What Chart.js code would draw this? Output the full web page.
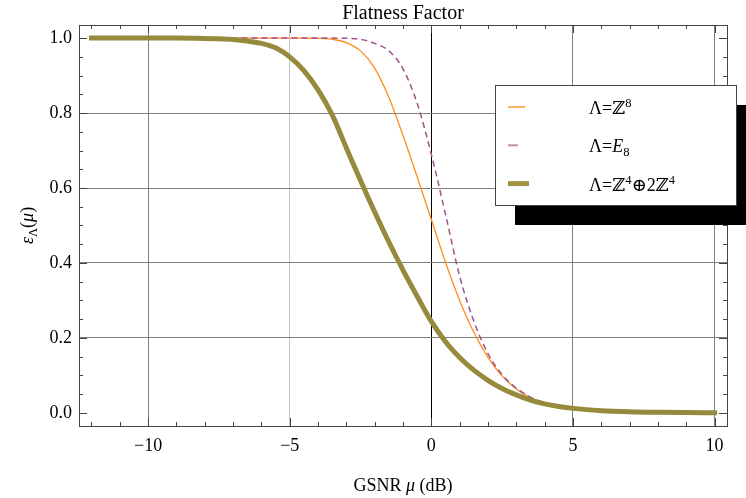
<!DOCTYPE html>
<html>
<head>
<meta charset="utf-8">
<script src="https://cdn.jsdelivr.net/npm/chart.js@4.4.0/dist/chart.umd.min.js"></script>
<style>
  html, body { margin: 0; padding: 0; background: #fff; }
</style>
</head>
<body>
<canvas id="flatness" width="746" height="498"></canvas>
<script>
// GSNR in dB
var gsnr = [-12, -11, -10, -9, -8, -7.5, -7, -6.5, -6, -5.5, -5, -4.5, -4, -3.5, -3, -2.5, -2, -1.5, -1, -0.5,
            0, 0.5, 1, 1.5, 2, 2.5, 3, 3.5, 4, 4.5, 5, 6, 7, 8, 9, 10];

// flatness factor
var z8 = [1, 1, 1, 1, 1, 1, 1, 1, 1, 1, 1, 1, 0.9995, 0.997, 0.988, 0.966, 0.92, 0.842, 0.74, 0.63,
          0.516, 0.402, 0.30, 0.215, 0.148, 0.098, 0.064, 0.041, 0.026, 0.017, 0.012, 0.006, 0.003, 0.0015, 0.0007, 0.0003];
var e8 = [1, 1, 1, 1, 1, 1, 1, 1, 1, 1, 1, 1, 1, 1, 0.9995, 0.997, 0.986, 0.966, 0.918, 0.826,
          0.69, 0.53, 0.365, 0.245, 0.158, 0.102, 0.066, 0.042, 0.026, 0.017, 0.012, 0.006, 0.003, 0.0015, 0.0007, 0.0003];
var z4 = [1, 1, 1, 1, 0.999, 0.998, 0.996, 0.992, 0.986, 0.974, 0.95, 0.913, 0.862, 0.795, 0.707, 0.62, 0.536, 0.456, 0.381, 0.311,
          0.244, 0.19, 0.148, 0.114, 0.087, 0.065, 0.048, 0.034, 0.024, 0.017, 0.012, 0.006, 0.003, 0.0015, 0.0007, 0.0003];

var xTicks = [-10, -5, 0, 5, 10];
var yTicks = [0, 0.2, 0.4, 0.6, 0.8, 1.0];

var serif = '"Liberation Serif", "Times New Roman", "DejaVu Serif", serif';

function pts(ys) {
    return gsnr.map(function (x, i) { return { x: x, y: ys[i] }; });
}

// text runs (normal / italic / sup / sub)
function runsWidth(ctx, runs, size) {
    var w = 0;
    runs.forEach(function (r) {
        var s = r.pos ? size * 0.7 : size;
        ctx.font = (r.it ? 'italic ' : '') + s + 'px ' + serif;
        w += ctx.measureText(r.t).width;
    });
    return w;
}
function drawRuns(ctx, runs, x, y, size) {
    runs.forEach(function (r) {
        var s = r.pos ? size * 0.7 : size;
        var dy = r.pos == 'sup' ? -size * 0.38 : (r.pos == 'sub' ? size * 0.22 : 0);
        ctx.font = (r.it ? 'italic ' : '') + s + 'px ' + serif;
        ctx.fillText(r.t, x, y + dy);
        x += ctx.measureText(r.t).width;
    });
}

var frame = {
    id: 'frame',
    afterDatasetsDraw: function (chart) {
        var ctx = chart.ctx, a = chart.chartArea;
        var xs = chart.scales.x, ys = chart.scales.y;
        ctx.save();
        ctx.strokeStyle = '#444';
        ctx.lineWidth = 1;
        ctx.strokeRect(a.left + 0.5, a.top + 0.5, a.right - a.left, a.bottom - a.top);
        ctx.beginPath();
        // ticks inside the frame, every unit / every 0.05
        for (var k = Math.ceil(xs.min); k <= Math.floor(xs.max); k++) {
            var px = Math.round(xs.getPixelForValue(k)) + 0.5;
            var len = k % 5 == 0 ? 8 : 4;
            ctx.moveTo(px, a.bottom); ctx.lineTo(px, a.bottom - len);
            ctx.moveTo(px, a.top); ctx.lineTo(px, a.top + len);
        }
        for (var i = 0; i <= 20; i++) {
            var py = Math.round(ys.getPixelForValue(i * 0.05)) + 0.5;
            var l2 = i % 4 == 0 ? 8 : 4;
            ctx.moveTo(a.left, py); ctx.lineTo(a.left + l2, py);
            ctx.moveTo(a.right, py); ctx.lineTo(a.right - l2, py);
        }
        ctx.stroke();

        // titles
        var cx = (a.left + a.right) / 2;
        ctx.fillStyle = '#000';
        ctx.textBaseline = 'alphabetic';
        ctx.textAlign = 'left';
        var t = [{ t: 'Flatness Factor' }];
        drawRuns(ctx, t, cx - runsWidth(ctx, t, 20) / 2, 19, 20);
        var xt = [{ t: 'GSNR ' }, { t: '\u03bc', it: true }, { t: ' (dB)' }];
        drawRuns(ctx, xt, cx - runsWidth(ctx, xt, 18) / 2, 491, 18);
        var yt = [{ t: '\u03b5', it: true }, { t: '\u039b', pos: 'sub' }, { t: '(' }, { t: '\u03bc', it: true }, { t: ')' }];
        ctx.save();
        ctx.translate(33, (a.top + a.bottom) / 2);
        ctx.rotate(-Math.PI / 2);
        drawRuns(ctx, yt, -runsWidth(ctx, yt, 18) / 2, 0, 18);
        ctx.restore();

        // legend with drop shadow
        var lx = 495, ly = 85, lw = 241, lh = 120;
        ctx.fillStyle = '#000';
        ctx.fillRect(lx + 20, ly + 20, lw, lh);
        ctx.fillStyle = '#fff';
        ctx.fillRect(lx, ly, lw, lh);
        ctx.strokeStyle = '#444';
        ctx.strokeRect(lx + 0.5, ly + 0.5, lw, lh);
        var rows = [
            { c: '#ffb066', w: 2, len: 17, runs: [{ t: '\u039b=\u2124' }, { t: '8', pos: 'sup' }] },
            { c: '#c88ab0', w: 2, len: 10, runs: [{ t: '\u039b=' }, { t: 'E', it: true }, { t: '8', pos: 'sub' }] },
            { c: '#a09444', w: 5, len: 21, runs: [{ t: '\u039b=\u2124' }, { t: '4', pos: 'sup' }, { t: '\u22952\u2124' }, { t: '4', pos: 'sup' }] }
        ];
        rows.forEach(function (r, j) {
            var ry = ly + 22 + j * 38.3;
            ctx.strokeStyle = r.c;
            ctx.lineWidth = r.w;
            ctx.beginPath();
            ctx.moveTo(lx + 13, ry); ctx.lineTo(lx + 13 + r.len, ry);
            ctx.stroke();
            ctx.fillStyle = '#000';
            drawRuns(ctx, r.runs, lx + 94, ry + 7, 18);
        });
        ctx.restore();
    }
};

var ctx = document.getElementById('flatness').getContext('2d');
var chart = new Chart(ctx, {
    type: 'scatter',
    data: {
        datasets: [{
            label: 'Z8',
            data: pts(z8),
            showLine: true,
            borderColor: '#ff8c1a',
            borderWidth: 1.3,
            pointRadius: 0,
            cubicInterpolationMode: 'monotone',
            order: 2
        }, {
            label: 'E8',
            data: pts(e8),
            showLine: true,
            borderColor: '#a0528c',
            borderWidth: 1.5,
            borderDash: [6, 4],
            pointRadius: 0,
            cubicInterpolationMode: 'monotone',
            order: 1
        }, {
            label: 'Z4+2Z4',
            data: pts(z4),
            showLine: true,
            borderColor: '#968a3c',
            borderWidth: 5,
            borderCapStyle: 'square',
            pointRadius: 0,
            cubicInterpolationMode: 'monotone',
            order: 0
        }]
    },
    options: {
        responsive: false,
        animation: false,
        layout: { padding: { top: 25, right: 19, left: 0, bottom: 0 } },
        plugins: {
            legend: { display: false },
            title: { display: false },
            tooltip: { enabled: false }
        },
        scales: {
            x: {
                type: 'linear',
                min: -12.44,
                max: 10.44,
                afterBuildTicks: function (s) { s.ticks = xTicks.map(function (v) { return { value: v }; }); },
                afterFit: function (s) { s.height = 72; },
                ticks: {
                    padding: 9,
                    color: '#000',
                    font: { family: serif, size: 18 },
                    callback: function (v) { return v < 0 ? '\u2212' + Math.abs(v) : '' + v; }
                },
                grid: {
                    drawTicks: false,
                    lineWidth: 1,
                    color: function (c) {
                        var v = c.tick ? c.tick.value : null;
                        if (v === 0) return '#000';
                        if (v === -5) return '#c4c4c4';
                        return '#808080';
                    }
                },
                border: { display: false }
            },
            y: {
                min: -0.035,
                max: 1.035,
                afterBuildTicks: function (s) { s.ticks = yTicks.map(function (v) { return { value: v }; }); },
                afterFit: function (s) { s.width = 79; },
                ticks: {
                    padding: 7,
                    color: '#000',
                    font: { family: serif, size: 18 },
                    callback: function (v) { return v.toFixed(1); }
                },
                grid: {
                    drawTicks: false,
                    lineWidth: 1,
                    color: function (c) {
                        var v = c.tick ? c.tick.value : null;
                        if (v === 0 || v === 1) return 'rgba(0,0,0,0)';
                        return '#808080';
                    }
                },
                border: { display: false }
            }
        }
    },
    plugins: [frame]
});
</script>
</body>
</html>
